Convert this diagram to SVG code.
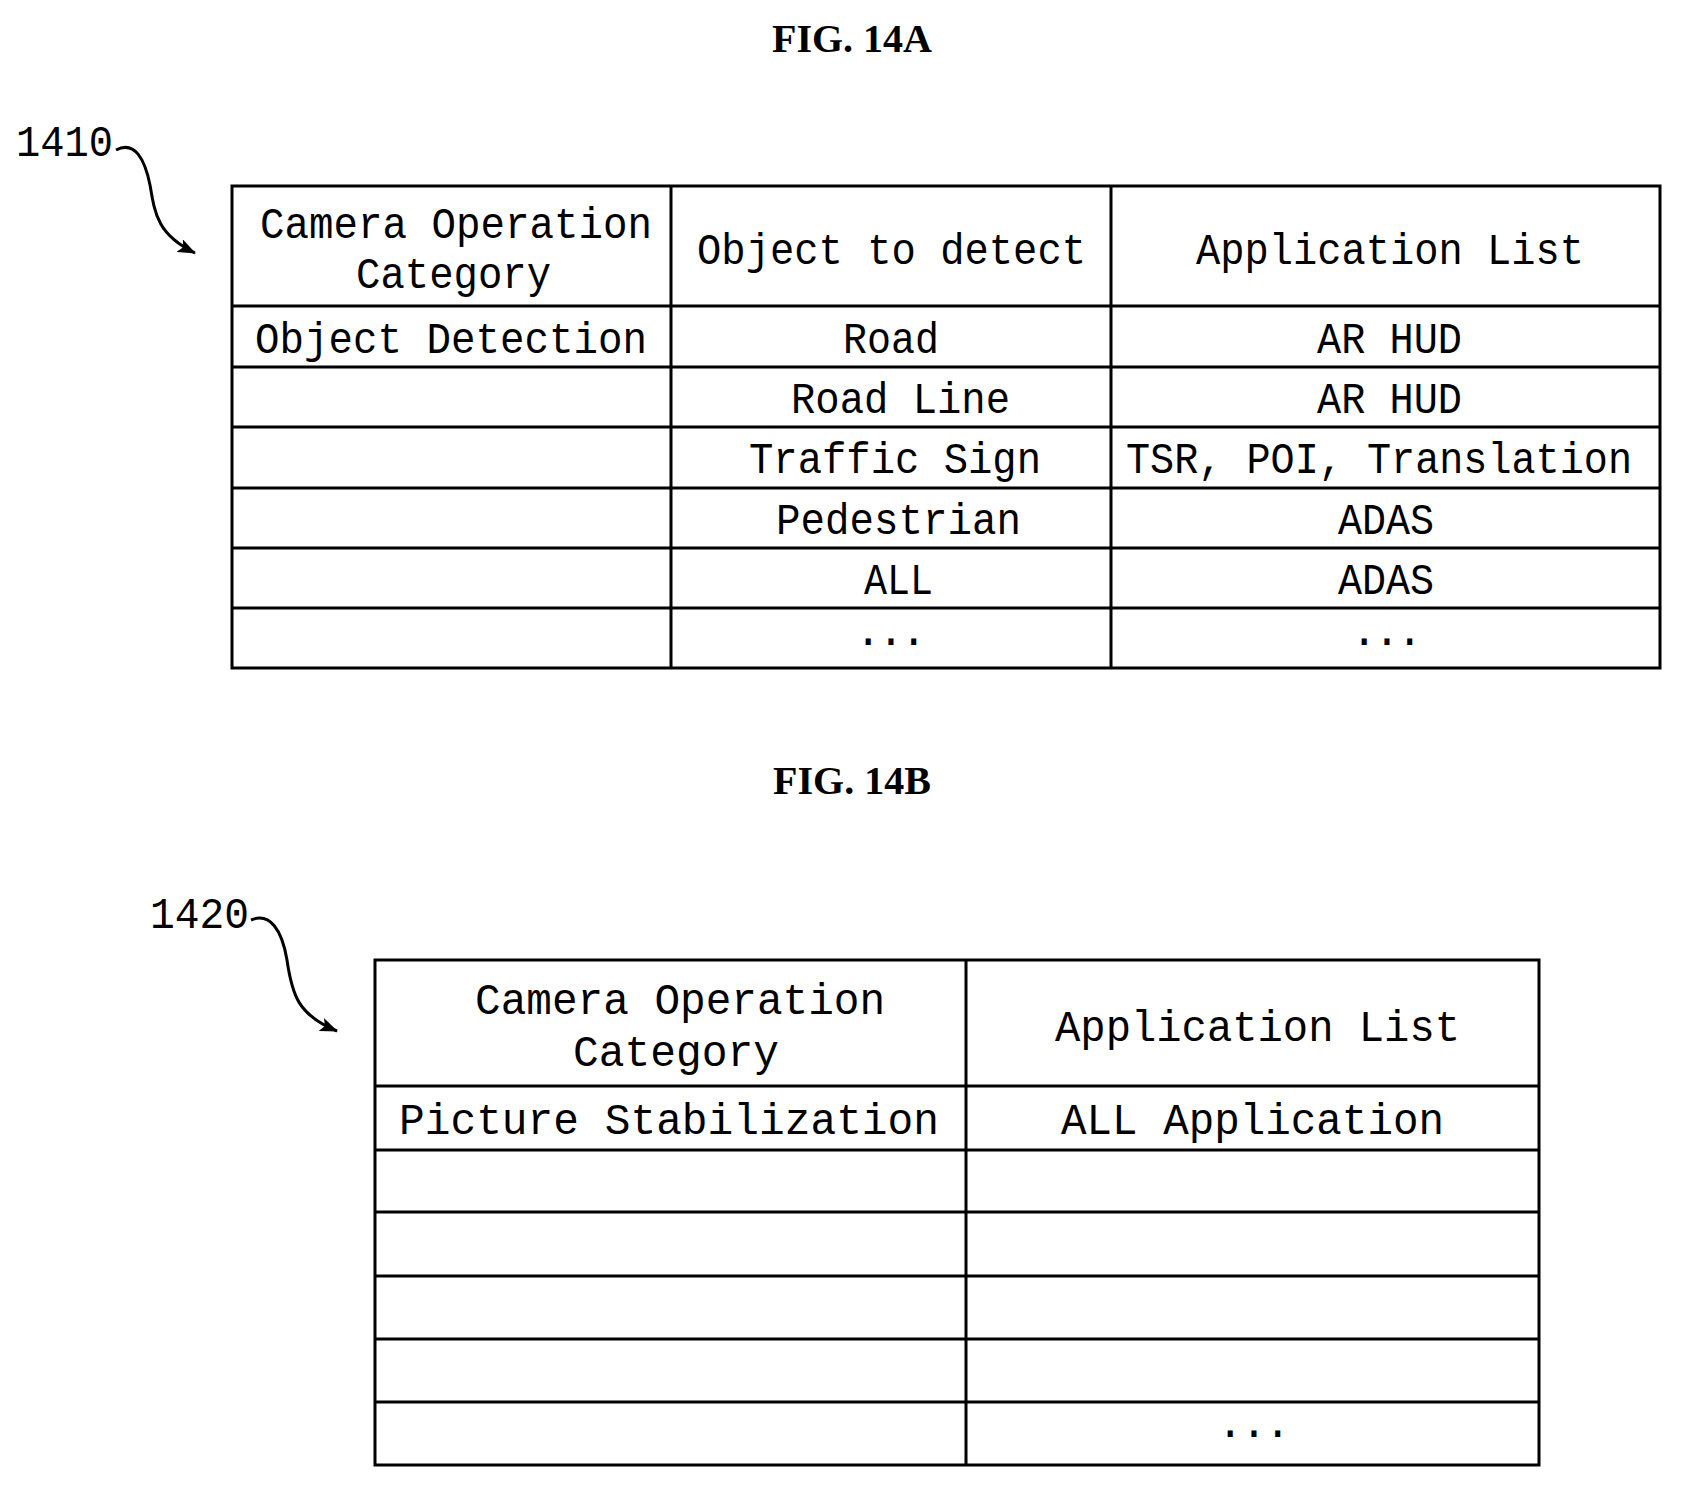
<svg xmlns="http://www.w3.org/2000/svg" width="1681" height="1489" viewBox="0 0 1681 1489">
<style>
.t{font-family:"Liberation Mono","Courier New",monospace;font-size:44px;fill:#000}
.fig{font-family:"Liberation Serif","Times New Roman",serif;font-size:40px;font-weight:bold;text-anchor:middle}
.ln{stroke:#000;stroke-width:3;fill:none}
</style>
<defs><marker id="ah" markerWidth="18" markerHeight="14" refX="17" refY="7" orient="auto" markerUnits="userSpaceOnUse" viewBox="0 0 18 14"><path d="M0,0 L18,7 L0,14 L4,7 Z" fill="#000"/></marker></defs>
<rect width="1681" height="1489" fill="#fff"/>
<text class="fig" x="852" y="52">FIG. 14A</text>
<text class="fig" x="852" y="794">FIG. 14B</text>
<g id="table1410">
<rect class="ln" x="232" y="186" width="1428" height="482"/>
<path class="ln" d="M671,186V668M1111,186V668M232,306H1660M232,367H1660M232,427H1660M232,488H1660M232,548H1660M232,608H1660"/>
<text class="t" x="260" y="238" textLength="392" lengthAdjust="spacingAndGlyphs">Camera Operation</text>
<text class="t" x="356" y="288" textLength="195" lengthAdjust="spacingAndGlyphs">Category</text>
<text class="t" x="697" y="264" textLength="389" lengthAdjust="spacingAndGlyphs">Object to detect</text>
<text class="t" x="1196" y="264" textLength="388" lengthAdjust="spacingAndGlyphs">Application List</text>
<text class="t" x="255" y="353" textLength="392" lengthAdjust="spacingAndGlyphs">Object Detection</text>
<text class="t" x="843" y="353" textLength="96" lengthAdjust="spacingAndGlyphs">Road</text>
<text class="t" x="1317" y="353" textLength="145" lengthAdjust="spacingAndGlyphs">AR HUD</text>
<text class="t" x="791" y="413" textLength="219" lengthAdjust="spacingAndGlyphs">Road Line</text>
<text class="t" x="1317" y="413" textLength="145" lengthAdjust="spacingAndGlyphs">AR HUD</text>
<text class="t" x="749" y="473" textLength="292" lengthAdjust="spacingAndGlyphs">Traffic Sign</text>
<text class="t" x="1126" y="473" textLength="506" lengthAdjust="spacingAndGlyphs">TSR, POI, Translation</text>
<text class="t" x="776" y="534" textLength="245" lengthAdjust="spacingAndGlyphs">Pedestrian</text>
<text class="t" x="1338" y="534" textLength="96" lengthAdjust="spacingAndGlyphs">ADAS</text>
<text class="t" x="864" y="594" textLength="69" lengthAdjust="spacingAndGlyphs">ALL</text>
<text class="t" x="1338" y="594" textLength="96" lengthAdjust="spacingAndGlyphs">ADAS</text>
<text class="t" x="855" y="645" textLength="72" lengthAdjust="spacing">...</text>
<text class="t" x="1351" y="645" textLength="72" lengthAdjust="spacing">...</text>
</g>
<g id="table1420">
<rect class="ln" x="375" y="960" width="1164" height="505"/>
<path class="ln" d="M966,960V1465M375,1086H1539M375,1150H1539M375,1212H1539M375,1276H1539M375,1339H1539M375,1402H1539"/>
<text class="t" x="475" y="1014" textLength="410" lengthAdjust="spacingAndGlyphs">Camera Operation</text>
<text class="t" x="573" y="1066" textLength="206" lengthAdjust="spacingAndGlyphs">Category</text>
<text class="t" x="1055" y="1041" textLength="405" lengthAdjust="spacingAndGlyphs">Application List</text>
<text class="t" x="399" y="1134" textLength="540" lengthAdjust="spacingAndGlyphs">Picture Stabilization</text>
<text class="t" x="1061" y="1134" textLength="383" lengthAdjust="spacingAndGlyphs">ALL Application</text>
<text class="t" x="1217" y="1437" textLength="74" lengthAdjust="spacing">...</text>
</g>
<g id="label1410">
<text class="t" x="16" y="156" textLength="97" lengthAdjust="spacingAndGlyphs">1410</text>
</g>
<g id="label1420">
<text class="t" x="150" y="928" textLength="99" lengthAdjust="spacingAndGlyphs">1420</text>
</g>
<g id="connectors">
<path class="ln" stroke-width="2.5" d="M116,150 C135,140 145,160 150,185 C155,215 158,235 195,253" marker-end="url(#ah)"/>
<path class="ln" stroke-width="2.5" d="M251,920 C270,912 282,930 287,960 C292,995 298,1015 337,1031" marker-end="url(#ah)"/>
</g>
</svg>
